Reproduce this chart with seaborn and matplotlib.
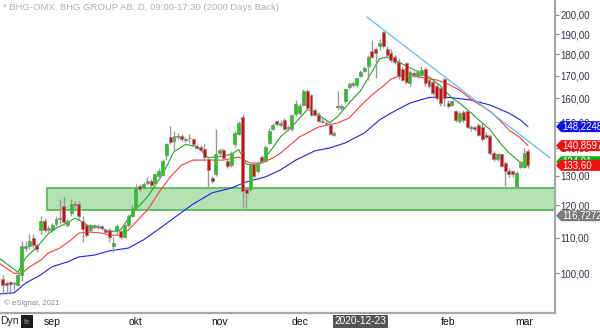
import numpy as np
import pandas as pd
import matplotlib
matplotlib.use("Agg")
import matplotlib.pyplot as plt
import seaborn as sns
from matplotlib.patches import Polygon, Rectangle
from matplotlib.ticker import NullLocator

# ---------------- data (daily candles, index 0 = 2020-08-12) ----------------
opens = [98.6, 97.3, 97.7, 97.2, 97.0, 99.5, 107.0, 107.5, 110.0, 108.0,
         112.2, 115.1, 112.2, 112.2, 114.2, 115.7, 119.7, 113.7, 117.7, 120.3,
         120.4, 115.1, 113.7, 112.2, 113.2, 113.4, 113.4, 112.2, 112.2, 107.5,
         111.9, 111.9, 110.2, 113.7, 116.7, 119.3, 126.4, 125.8, 127.4, 128.2,
         127.3, 130.0, 130.2, 137.3, 144.1, 142.6, 144.2, 144.5, 143.5, 143.6,
         143.2, 140.9, 140.4, 139.5, 136.0, 129.3, 130.4, 138.2, 139.4, 135.2,
         133.6, 141.3, 145.5, 152.1, 125.3, 125.3, 134.0, 131.6, 136.6, 135.2,
         142.0, 147.3, 150.5, 148.7, 150.9, 147.5, 147.1, 153.5, 153.8, 157.2,
         163.2, 161.5, 155.1, 153.1, 150.5, 149.8, 148.8, 145.1, 156.6, 156.0,
         158.9, 164.8, 165.8, 165.6, 169.9, 172.3, 174.2, 181.8, 182.6, 183.9,
         191.3, 182.6, 180.5, 178.9, 176.5, 173.2, 175.7, 166.6, 171.0, 169.6,
         170.3, 172.9, 168.1, 167.3, 165.1, 164.3, 168.4, 158.0, 157.2, 154.4,
         150.4, 154.0, 154.4, 148.2, 147.9, 148.8, 148.2, 145.1, 144.6, 138.2,
         135.8, 137.6, 134.6, 131.6, 131.6, 126.4, 133.0, 133.0, 138.8]
highs = [99.5, 98.0, 98.0, 98.0, 100.4, 109.0, 109.2, 111.2, 111.2, 108.6,
         116.7, 116.0, 113.5, 114.4, 116.5, 122.0, 122.6, 115.8, 122.0, 121.5,
         121.5, 116.7, 114.2, 114.2, 114.2, 114.2, 113.9, 112.8, 113.0, 110.2,
         114.2, 112.2, 114.2, 117.2, 120.0, 127.0, 127.2, 127.8, 129.5, 128.8,
         131.0, 132.5, 136.0, 142.0, 148.5, 146.5, 145.8, 145.5, 144.2, 145.5,
         143.8, 141.5, 141.0, 141.3, 137.0, 130.0, 147.1, 140.0, 140.0, 136.0,
         138.8, 146.5, 150.5, 153.5, 126.0, 134.5, 134.5, 135.2, 137.2, 141.0,
         147.5, 149.5, 151.0, 150.8, 151.5, 149.0, 153.5, 159.0, 158.0, 164.0,
         164.0, 162.0, 156.0, 154.0, 151.5, 150.5, 149.5, 146.5, 163.0, 157.5,
         164.5, 167.0, 167.5, 169.5, 172.5, 174.5, 179.5, 187.0, 183.5, 187.5,
         191.6, 184.0, 182.4, 179.5, 178.0, 174.5, 176.5, 172.5, 172.0, 172.5,
         174.5, 174.0, 169.0, 168.0, 166.0, 165.0, 168.8, 159.0, 159.0, 155.0,
         154.5, 155.0, 155.0, 149.0, 148.5, 149.5, 149.5, 146.0, 145.5, 139.0,
         138.0, 138.0, 135.0, 132.5, 132.0, 131.5, 135.0, 140.0, 139.5]
lows = [94.7, 94.5, 95.0, 96.0, 96.6, 98.0, 106.3, 106.8, 107.0, 106.0,
        111.2, 111.8, 111.8, 111.8, 113.5, 114.0, 113.7, 113.2, 116.7, 118.5,
        115.7, 108.7, 110.2, 111.8, 112.6, 112.5, 112.2, 111.0, 108.8, 105.8,
        111.0, 109.5, 110.0, 113.2, 116.2, 119.0, 124.8, 125.3, 126.8, 126.2,
        127.0, 129.5, 129.8, 135.5, 141.5, 139.0, 143.2, 142.8, 142.4, 141.8,
        140.5, 139.5, 138.8, 135.2, 126.0, 127.3, 130.0, 137.5, 135.8, 132.5,
        133.0, 140.5, 145.0, 119.6, 119.3, 124.8, 129.3, 131.0, 134.5, 134.8,
        141.5, 146.8, 148.5, 148.2, 146.8, 146.5, 146.5, 152.5, 152.8, 156.5,
        155.5, 152.5, 152.5, 150.0, 149.5, 148.8, 145.0, 144.5, 155.1, 155.0,
        158.0, 164.0, 165.0, 165.0, 169.3, 171.5, 168.0, 178.0, 169.0, 182.0,
        183.0, 178.0, 176.5, 175.5, 168.5, 167.5, 166.0, 165.5, 169.5, 169.0,
        169.5, 165.5, 164.5, 161.5, 159.0, 156.5, 156.5, 156.0, 156.5, 150.0,
        149.5, 150.0, 147.5, 146.5, 146.5, 144.5, 142.5, 143.5, 137.5, 135.0,
        135.0, 133.0, 126.4, 129.5, 129.5, 125.7, 132.5, 132.5, 132.8]
closes = [96.9, 97.0, 97.1, 97.4, 99.5, 107.5, 107.5, 109.2, 107.8, 106.8,
          115.1, 112.2, 112.8, 113.9, 115.7, 115.9, 114.7, 115.1, 120.4, 120.0,
          116.7, 112.6, 110.7, 113.7, 113.7, 113.3, 112.8, 111.6, 110.2, 108.5,
          113.4, 110.2, 113.7, 116.7, 119.3, 125.7, 125.5, 127.0, 128.2, 126.7,
          130.4, 131.5, 135.2, 141.3, 142.2, 144.7, 144.4, 143.5, 143.0, 143.7,
          141.3, 140.0, 139.4, 136.7, 131.9, 128.2, 137.6, 139.1, 136.4, 133.5,
          138.0, 145.8, 149.6, 124.7, 124.2, 134.0, 129.8, 134.6, 135.2, 140.4,
          146.4, 148.7, 149.3, 149.6, 147.3, 148.0, 152.8, 157.6, 156.8, 163.2,
          156.0, 153.1, 153.1, 150.5, 150.0, 149.4, 145.5, 145.8, 156.4, 156.8,
          164.0, 166.3, 166.7, 168.8, 171.8, 173.6, 178.9, 178.9, 180.5, 185.3,
          183.9, 179.7, 177.3, 176.5, 169.6, 168.1, 167.3, 171.8, 170.3, 171.8,
          172.6, 166.6, 165.1, 162.3, 160.0, 158.0, 160.0, 156.5, 158.6, 151.0,
          153.8, 150.8, 148.2, 147.5, 147.1, 145.1, 143.2, 144.2, 138.2, 135.8,
          137.6, 133.5, 131.6, 130.4, 130.4, 131.0, 134.6, 138.2, 133.6]

# moving averages, read at candle indices
ma_short_idx = [-1, 4, 6, 9, 12, 14, 17, 19, 23, 26, 28, 31, 34, 38, 42, 45, 48, 51,
                54, 57, 60, 62, 64, 67, 69, 71, 73, 76, 80, 82, 84, 86, 88, 91, 94,
                97, 99, 101, 103, 105, 107, 110, 112, 115, 118, 120, 123, 125, 128,
                131, 133, 136, 138]
ma_short = [104.2, 100.3, 104.2, 107.3, 111.2, 112.9, 114.5, 116.0, 113.3, 112.9,
            111.7, 112.4, 117.5, 122.7, 130.4, 138.6, 141.3, 140.6, 136.4, 136.8,
            137.6, 139.4, 134.0, 133.6, 136.4, 140.1, 144.3, 148.2, 155.1, 154.3,
            151.8, 149.8, 152.3, 157.9, 163.2, 171.7, 177.8, 178.7, 177.3, 175.4,
            173.5, 171.2, 169.4, 165.4, 160.1, 157.9, 153.9, 151.0, 147.1, 141.3,
            138.2, 134.6, 134.9]
ma_mid_idx = [-1, 3, 5, 7, 10, 12, 15, 18, 20, 23, 26, 28, 31, 33, 36, 38, 41, 44,
              47, 50, 54, 58, 62, 65, 68, 71, 73, 78, 83, 88, 91, 94, 97, 100, 102,
              105, 109, 114, 117, 120, 123, 125, 128, 131, 133, 136, 138]
ma_mid = [102.8, 100.0, 100.0, 101.7, 103.6, 105.6, 107.0, 109.4, 111.4, 111.7,
          111.4, 110.8, 110.8, 112.3, 116.0, 118.5, 124.1, 129.5, 133.7, 135.5,
          135.5, 135.5, 136.6, 134.4, 134.4, 136.3, 138.1, 144.2, 148.1, 149.7,
          151.7, 156.7, 161.4, 165.3, 168.4, 170.3, 169.4, 168.0, 166.2, 163.5,
          159.6, 157.5, 154.6, 150.1, 146.9, 143.8, 140.9]
ma_long_idx = [-1, 3, 6, 10, 13, 17, 20, 24, 28, 33, 37, 41, 46, 50, 55, 60, 64, 69,
               73, 77, 82, 86, 90, 95, 99, 102, 107, 112, 115, 118, 123, 128, 133,
               136, 138]
ma_long = [94.6, 94.9, 97.4, 99.6, 101.8, 103.1, 104.5, 105.0, 106.2, 107.0, 109.4,
           112.6, 116.9, 120.4, 124.1, 125.7, 127.8, 129.5, 132.0, 135.5, 138.9,
           140.0, 141.9, 145.7, 150.9, 153.7, 157.9, 160.3, 160.5, 160.2, 159.2,
           157.1, 153.7, 150.9, 148.2]

month_idx = [13, 35, 57, 78, 98, 117, 137]
month_labels = ["sep", "okt", "nov", "dec", "", "feb", "mar"]
y_ticks = [100, 110, 120, 130, 140, 150, 160, 170, 180, 190, 200]

zone_start, zone_low, zone_high = 11.6, 118.6, 125.7
trend_x = [95.7, 143.8]
trend_y = [198.9, 136.3]
cross_idx, cross_label = 94, "2020-12-23"

tag_values = [148.2248, 140.85976, 134.9, 133.60, 116.72725]
tag_texts = ["148,22484", "140,85976", "134,91", "133,60", "116,72725"]
tag_colors = ["#1010f0", "#ee1111", "#10b010", "#ee1111", "#7a7a7a"]

title = "* BHG-OMX, BHG GROUP AB, D, 09:00-17:30 (2000 Days Back)"

# ---------------- figure ----------------
sns.set_style("white")
plt.rcParams['font.family'] = ['Liberation Sans', 'DejaVu Sans']

W, H = 600, 328
fig = plt.figure(figsize=(W / 100, H / 100), dpi=100)
ax = fig.add_axes([0, 15 / H, 555 / W, 313 / H])
ax.set_yscale('log')
ax.set_ylim(89.9, 208.2)
ax.set_xlim(-0.71, 145.1)

# zone
ax.add_patch(Rectangle((zone_start, zone_low), 145.1 - zone_start, zone_high - zone_low,
                       facecolor="#b4e2b4", edgecolor="#5cbc5c", lw=1.3, zorder=1))

# moving averages via seaborn
ma_df = pd.concat([
    pd.DataFrame({"i": ma_long_idx, "v": ma_long, "s": "long"}),
    pd.DataFrame({"i": ma_mid_idx, "v": ma_mid, "s": "mid"}),
    pd.DataFrame({"i": ma_short_idx, "v": ma_short, "s": "short"}),
])
sns.lineplot(data=ma_df, x="i", y="v", hue="s",
             palette={"long": "#2020ee", "mid": "#ff3b3b", "short": "#22a322"},
             linewidth=0.8, legend=False, ax=ax, zorder=2, estimator=None, sort=False)

# candles
idx = np.arange(len(closes))
o = np.array(opens); c = np.array(closes)
hi = np.array(highs); lo = np.array(lows)
up = c >= o
ax.vlines(idx, lo, hi, color="#9a9a9a", lw=1.0, zorder=3)
body_bot = np.minimum(o, c)
body_h = np.maximum(np.abs(c - o), 0.35)
ax.bar(idx[up], body_h[up], bottom=body_bot[up], width=0.78, color="#00e000",
       edgecolor="#8c8c8c", linewidth=0.6, zorder=4)
ax.bar(idx[~up], body_h[~up], bottom=body_bot[~up], width=0.78, color="#ee0000",
       edgecolor="#8c8c8c", linewidth=0.6, zorder=4)

# trend line
ax.plot(trend_x, trend_y, color="#6ec0f0", lw=1.0, zorder=5)

# axes styling
for s in ["top", "left"]:
    ax.spines[s].set_visible(False)
for s in ["right", "bottom"]:
    ax.spines[s].set_color("#a8a8a8")
    ax.spines[s].set_linewidth(1.6)
ax.yaxis.tick_right()
ax.set_yticks(y_ticks)
ax.set_yticklabels([f"{v},00" for v in y_ticks])
ax.yaxis.set_minor_locator(NullLocator())
ax.tick_params(axis="y", direction="out", length=3, width=0.8, color="#888888",
               labelsize=7, labelcolor="#333344", pad=1)
ax.set_xticks(month_idx)
ax.set_xticklabels(month_labels)
ax.tick_params(axis="x", direction="out", length=2, width=0.8, color="#888888",
               labelsize=7.5, labelcolor="#111111", pad=0.8)
ax.set_xlabel("")
ax.set_ylabel("")
ax.grid(False)

# crosshair date label
xd = ax.transData.transform((cross_idx, 100))[0] / W
fig.text(xd, 1 - 321.5 / H, cross_label, ha="center", va="center", fontsize=7.3,
         color="white", bbox=dict(boxstyle="square,pad=0.15", fc="#555555", ec="none"))

# value tags on right axis (later tags drawn on top of earlier ones)
for k, (v, t, col) in enumerate(zip(tag_values, tag_texts, tag_colors)):
    yc = ax.transData.transform((0, v))[1]
    x0 = 556
    pts = [(x0, yc), (x0 + 5, yc + 5.5), (W + 5, yc + 5.5), (W + 5, yc - 5.5), (x0 + 5, yc - 5.5)]
    pts = [(px / W, py / H) for px, py in pts]
    fig.add_artist(Polygon(pts, closed=True, transform=fig.transFigure,
                           facecolor=col, edgecolor="none", zorder=10 + 2 * k))
    fig.text(562 / W, yc / H, t, ha="left", va="center", fontsize=7, color="white",
             zorder=11 + 2 * k)

# texts
fig.text(3 / W, 1 - 8 / H, title, ha="left", va="center", fontsize=6.8, color="#b0b0b0")
fig.text(4 / W, 1 - 303 / H, "© eSignal, 2021", ha="left", va="center", fontsize=5.6,
         color="#888888")
fig.text(0 / W, 1 - 321 / H, "Dyn", ha="left", va="center", fontsize=7.5, color="#222222")
fig.add_artist(Rectangle((21 / W, 0 / H), 12 / W, 13 / H, transform=fig.transFigure,
                         facecolor="#1e1e1e", edgecolor="none"))
fig.text(27 / W, 6 / H, "fe", ha="center", va="center", fontsize=5.5, color="#999999")

fig.savefig("out.png", dpi=100)
